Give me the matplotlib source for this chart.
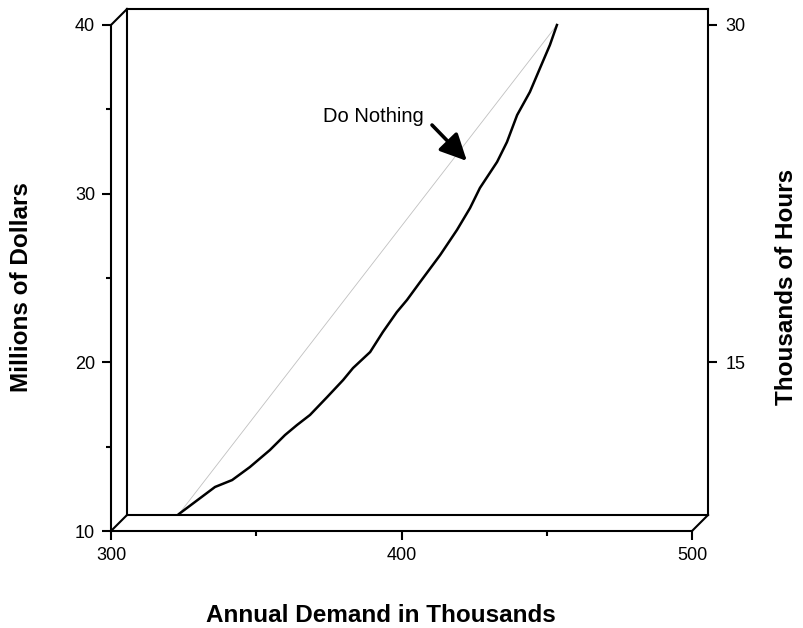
import matplotlib

matplotlib.use("Agg")
import matplotlib.pyplot as plt
from matplotlib.lines import Line2D

plt.rcParams.update(
    {
        "font.family": ["Liberation Sans", "DejaVu Sans"],
        "font.size": 13,
    }
)

# curve (Annual Demand, Millions of Dollars)
demand = [323.4, 335.8, 341.7, 347.8, 354.7, 359.9, 364.0, 368.5, 374.4,
          379.9, 383.3, 389.2, 393.6, 398.4, 401.9, 406.4, 413.3, 419.1,
          423.6, 427.0, 432.9, 436.3, 439.8, 444.2, 447.7, 451.1, 453.5]
dollars = [11.01, 12.61, 13.02, 13.79, 14.80, 15.69, 16.28, 16.88, 17.94,
           18.95, 19.66, 20.61, 21.80, 22.98, 23.70, 24.76, 26.36, 27.85,
           29.15, 30.34, 31.88, 33.06, 34.66, 36.03, 37.45, 38.82, 40.00]

# straight reference line between the same end points
ref_demand = [323.4, 453.5]
ref_dollars = [11.01, 40.00]

x_major = [300, 400, 500]
x_minor = [350, 450]
y_major = [10, 20, 30, 40]
y_minor = [15, 25, 35]
hours_ticks = [15, 30]
HOURS_PER_MILLION = 0.75

W, H = 804, 628
LEFT, RIGHT, TOP, BOTTOM = 111, 692, 25, 531
D = 16  # depth offset of the back plane in pixels
LW = 1.5


def rect(left, top, right, bottom):
    return [left / W, 1 - bottom / H, (right - left) / W, (bottom - top) / H]


def fig_line(fig, x0, y0, x1, y1):
    fig.add_artist(
        Line2D([x0 / W, x1 / W], [1 - y0 / H, 1 - y1 / H],
               transform=fig.transFigure, color="black", lw=LW,
               solid_capstyle="projecting")
    )


fig = plt.figure(figsize=(W / 100, H / 100), dpi=100)

back = fig.add_axes(rect(LEFT + D, TOP - D, RIGHT + D, BOTTOM - D), zorder=0)
back.set_xticks([])
back.set_yticks([])
for s in back.spines.values():
    s.set_linewidth(LW)

ax = fig.add_axes(rect(LEFT, TOP, RIGHT, BOTTOM), zorder=1)
ax.patch.set_visible(False)
ax.set_xlim(300, 500)
ax.set_ylim(10, 40)
ax.spines[["top", "right"]].set_visible(False)
ax.spines[["left", "bottom"]].set_linewidth(LW)
ax.set_xticks(x_major)
ax.set_xticks(x_minor, minor=True)
ax.set_yticks(y_major)
ax.set_yticks(y_minor, minor=True)
ax.tick_params(which="major", length=6.5, width=LW, pad=5, labelsize=13)
ax.tick_params(which="minor", length=3.6, width=LW)

ax.plot(ref_demand, ref_dollars, color="#c0c0c0", lw=0.6, clip_on=False)
ax.plot(demand, dollars, color="black", lw=1.8, clip_on=False,
        solid_joinstyle="round")

sec = ax.secondary_yaxis(
    1 + D / (RIGHT - LEFT),
    functions=(lambda v: v * HOURS_PER_MILLION, lambda v: v / HOURS_PER_MILLION),
)
for s in sec.spines.values():
    s.set_visible(False)
sec.set_yticks(hours_ticks)
sec.tick_params(axis="y", which="major", direction="out", length=6.5,
                width=LW, pad=6, labelsize=13, right=True, labelright=True,
                left=False, labelleft=False)
sec.tick_params(axis="y", which="minor", length=0)

# depth edges joining the front axes to the back plane
fig_line(fig, LEFT, TOP, LEFT + D, TOP - D)
fig_line(fig, LEFT, BOTTOM, LEFT + D, BOTTOM - D)
fig_line(fig, RIGHT, BOTTOM, RIGHT + D, BOTTOM - D)

ax.annotate(
    "",
    xy=(422.5, 31.94),
    xytext=(410.5, 34.07),
    arrowprops=dict(arrowstyle="-|>,head_length=0.45,head_width=0.22",
                    color="black", lw=2.6, mutation_scale=36,
                    shrinkA=0, shrinkB=0),
)
ax.text(407.6, 34.25, "Do Nothing", ha="right", va="baseline", fontsize=14.5)

label_kw = dict(fontsize=17.5, fontweight="bold", ha="center", va="center")
fig.text(381 / W, 1 - 616 / H, "Annual Demand in Thousands", **label_kw)
fig.text(22 / W, 1 - 287 / H, "Millions of Dollars", rotation=90, **label_kw)
fig.text(787 / W, 1 - 287 / H, "Thousands of Hours", rotation=90, **label_kw)

fig.savefig("out.png", dpi=100)
